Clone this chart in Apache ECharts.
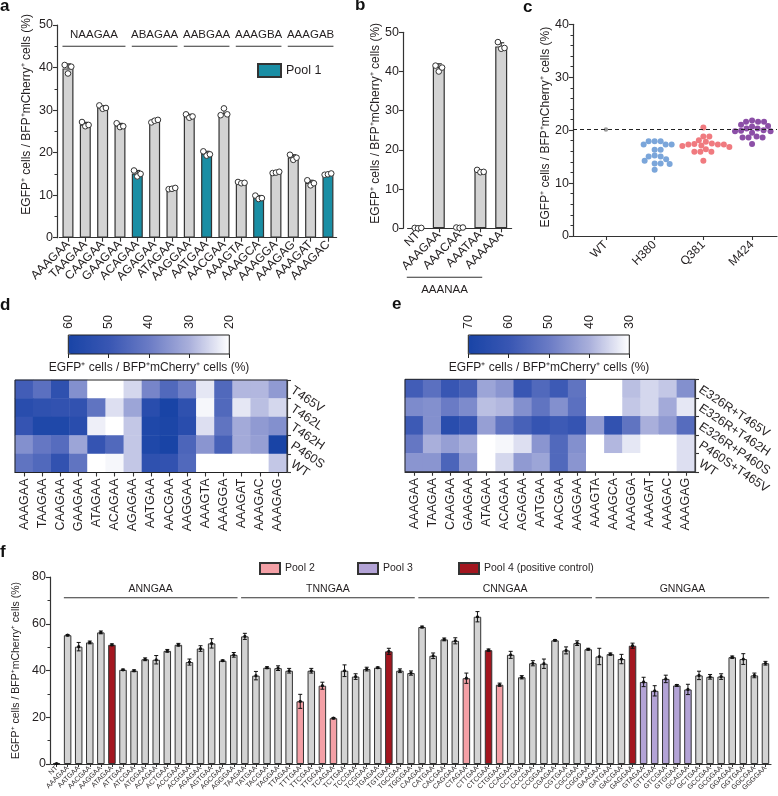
<!DOCTYPE html>
<html><head><meta charset="utf-8">
<script src="https://cdn.jsdelivr.net/npm/echarts@6/dist/echarts.min.js"></script>
<style>html,body{margin:0;padding:0;background:#fff}#c{width:778px;height:796px}</style>
</head><body><div id="c"></div>
<script>
const FONT = '"Liberation Sans", Arial, Helvetica, sans-serif';
const TXT = '#231f20';
const YTITLE = 'EGFP\u207A cells / BFP\u207AmCherry\u207A cells (%)';

// ---------- Panel a ----------
const aCategories = ['AAAGAA','TAAGAA','CAAGAA','GAAGAA','ACAGAA','AGAGAA','ATAGAA','AAGGAA','AATGAA','AACGAA','AAAGTA','AAAGCA','AAAGGA','AAAGAG','AAAGAT','AAAGAC'];
const aValues = [39.8, 26.6, 30.6, 26.4, 15.1, 27.5, 11.6, 28.6, 19.8, 29.3, 13.0, 9.5, 15.3, 18.9, 12.9, 15.0];
const aPool = [0,0,0,0,1,0,0,0,1,0,0,1,0,0,0,1];
const aReplicates = [
  [40.6,38.6,40.2],[27.2,26.2,26.5],[31.1,30.3,30.5],[26.9,26.0,26.2],
  [15.8,14.4,15.0],[27.1,27.5,27.7],[11.4,11.5,11.7],[29.0,28.2,28.5],
  [20.3,19.3,19.6],[28.8,30.4,29.0],[13.1,12.8,12.9],[9.9,9.1,9.3],
  [15.2,15.3,15.5],[19.5,18.3,18.8],[13.5,12.3,12.8],[14.8,14.9,15.1]
];
const aGroupNames = ['NAAGAA','ABAGAA','AABGAA','AAAGBA','AAAGAB'];
const aGroupStart = [0,4,7,10,13];
const aGroupEnd = [3,6,9,12,15];

// ---------- Panel b ----------
const bCategories = ['NT','AAAGAA','AAACAA','AAATAA','AAAAAA'];
const bValues = [0.1, 41.2, 0.2, 14.6, 46.4];
const bReplicates = [[0.1,0.0,0.1],[41.5,40.0,41.0],[0.2,0.1,0.2],[14.9,14.3,14.4],[47.5,45.8,46.0]];
const bUnderlineName = 'AAANAA';
const bUnderlineStart = 1, bUnderlineEnd = 4;

// ---------- Panel c ----------
const cGroups = ['WT','H380','Q381','M424'];
const cWT = [20.1];
const cH380 = [17.9,17.9,17.9,17.3,17.3,17.3,16.3,16.3,15.2,15.0,15.0,14.5,14.2,13.7,13.7,13.6,12.5];
const cQ381 = [20.5,18.8,18.8,18.1,17.8,17.5,17.4,17.3,17.3,17.3,17.1,17.0,16.8,16.4,15.9,15.9,15.9,14.2];
const cM424 = [21.8,21.6,21.6,21.6,21.0,20.8,20.7,20.3,20.3,20.0,19.9,19.8,19.8,19.5,18.8,18.6,18.6,18.6,17.4];
const cColors = ['#9a9a9a','#7ba6da','#f07a7f','#8c4fa7'];

// ---------- Panel d ----------
const dColumns = ['AAAGAA','TAAGAA','CAAGAA','GAAGAA','ATAGAA','ACAGAA','AGAGAA','AATGAA','AACGAA','AAGGAA','AAAGTA','AAAGGA','AAAGAT','AAAGAC','AAAGAG'];
const dRows = ['T465V','T462L','T462H','P460S','WT'];
const dValues = [
  [48, 43, 53, 36, 20, 20, 25, 38, 45, 39, 23, 45, 29, 29, 34],
  [55, 53, 52, 52, 42, 24, 32, 55, 60, 53, 21, 45, 23, 28, 25],
  [51, 58, 58, 55, 22, 20, 27, 58, 59, 55, 24, 42, 31, 34, 36],
  [36, 41, 44, 32, 51, 45, 27, 58, 62, 46, 35, 47, 31, 33, 60],
  [42, 45, 52, 42, 20, 21, 27, 53, 52, 45, 20, 20, 20, 20, 27]
];
const dRange = [20, 60];

// ---------- Panel e ----------
const eColumns = ['AAAGAA','TAAGAA','CAAGAA','GAAGAA','ATAGAA','ACAGAA','AGAGAA','AATGAA','AACGAA','AAGGAA','AAAGTA','AAAGCA','AAAGGA','AAAGAT','AAAGAC','AAAGAG'];
const eRows = ['E326R+T465V','E326R+T462H','E326R+P460S','P460S+T465V','WT'];
const eValues = [
  [58, 53, 60, 57, 42, 45, 60, 55, 59, 52, 30, 30, 38, 35, 37, 46],
  [47, 46, 50, 47, 38, 39, 46, 52, 46, 53, 30, 30, 37, 35, 41, 33],
  [59, 46, 65, 61, 43, 52, 57, 61, 59, 61, 44, 62, 52, 40, 44, 54],
  [51, 40, 43, 40, 30, 31, 34, 45, 55, 46, 30, 39, 33, 30, 30, 34],
  [45, 45, 56, 44, 30, 35, 44, 42, 55, 45, 30, 30, 30, 30, 30, 34]
];
const eRange = [30, 70];

// ---------- Panel f ----------
const fCategories = ['NT',
 'AAAGAA','AATGAA','AACGAA','AAGGAA','ATAGAA','ATTGAA','ATCGAA','ATGGAA','ACAGAA','ACTGAA','ACCGAA','ACGGAA','AGAGAA','AGTGAA','AGCGAA','AGGGAA',
 'TAAGAA','TATGAA','TACGAA','TAGGAA','TTAGAA','TTTGAA','TTCGAA','TTGGAA','TCAGAA','TCTGAA','TCCGAA','TCGGAA','TGAGAA','TGTGAA','TGCGAA','TGGGAA',
 'CAAGAA','CATGAA','CACGAA','CAGGAA','CTAGAA','CTTGAA','CTCGAA','CTGGAA','CCAGAA','CCTGAA','CCCGAA','CCGGAA','CGAGAA','CGTGAA','CGCGAA','CGGGAA',
 'GAAGAA','GATGAA','GACGAA','GAGGAA','GTAGAA','GTTGAA','GTCGAA','GTGGAA','GCAGAA','GCTGAA','GCCGAA','GCGGAA','GGAGAA','GGTGAA','GGCGAA','GGGGAA'];
const fValues = [0.2,
 55.1, 50.2, 52.0, 56.3, 51.0, 40.3, 39.9, 44.8, 44.6, 48.4, 51.0, 43.6, 49.4, 51.6, 44.2, 46.7,
 54.6, 37.8, 41.2, 41.0, 39.9, 26.8, 39.9, 33.5, 19.6, 39.9, 37.4, 40.6, 41.2, 48.2, 39.9, 38.9,
 58.6, 46.3, 53.3, 52.7, 36.7, 63.0, 48.7, 33.9, 46.7, 37.1, 43.1, 42.9, 52.9, 48.6, 51.7, 49.1,
 46.0, 47.0, 44.9, 50.6, 35.1, 31.3, 36.4, 33.6, 31.9, 37.9, 37.3, 37.4, 45.7, 44.9, 37.9, 43.1];
const fSD = [0.1,
 0.3, 1.8, 0.6, 0.6, 0.4, 0.3, 0.4, 0.6, 1.8, 0.6, 0.6, 1.3, 1.2, 2.0, 0.3, 1.0,
 1.3, 1.8, 0.4, 1.0, 1.0, 3.0, 1.0, 1.5, 0.3, 2.5, 1.2, 0.8, 0.3, 1.3, 0.8, 0.9,
 0.4, 1.2, 0.6, 1.3, 2.2, 2.2, 0.5, 0.7, 1.5, 0.7, 1.1, 2.0, 0.3, 1.5, 1.0, 0.4,
 3.5, 0.5, 2.0, 1.1, 2.0, 2.2, 1.6, 0.4, 2.2, 1.8, 1.0, 1.2, 0.5, 2.3, 1.0, 0.8];
const fPool = [0,
 0,0,0,0,4,0,0,0,0,0,0,0,0,0,0,0,
 0,0,0,0,0,2,0,2,2,0,0,0,0,4,0,0,
 0,0,0,0,2,0,4,2,0,0,0,0,0,0,0,0,
 0,0,0,4,3,3,3,3,3,0,0,0,0,0,0,0];
const fGroupNames = ['ANNGAA','TNNGAA','CNNGAA','GNNGAA'];
const fGroupStart = [1,17,33,49];
const fGroupEnd = [16,32,48,64];

// ---------- styles ----------
const GRAY = '#d3d3d3', EDGE = '#333333';
const POOLCOL = {1:'#1a8ea4', 2:'#f4a0a6', 3:'#b3a3d6', 4:'#a3161f'};
const HEAT = ['#ffffff','#a9afdb','#6a7bc5','#3856b3','#1944a6'];

const chart = echarts.init(document.getElementById('c'), null, {renderer:'canvas'});

function sel(vals, pools, p){ return vals.map((v,i)=> pools[i]===p ? v : null); }
function sdOf(r){ const m=r.reduce((s,v)=>s+v,0)/r.length; return Math.sqrt(r.reduce((s,v)=>s+(v-m)*(v-m),0)/(r.length-1)); }

function repRender(params, api){
  const i = api.value(0), m = api.value(1);
  const reps = [api.value(2), api.value(3), api.value(4)];
  const sd = sdOf(reps);
  const c = api.coord([i, m]), t = api.coord([i, m+sd]);
  const ch = [
    {type:'line', shape:{x1:c[0],y1:c[1],x2:c[0],y2:t[1]}, style:{stroke:EDGE,lineWidth:1.2}},
    {type:'line', shape:{x1:c[0]-3,y1:t[1],x2:c[0]+3,y2:t[1]}, style:{stroke:EDGE,lineWidth:1.2}}
  ];
  const offs = [-3.3, 0, 3.3];
  reps.forEach((r,j)=>{ const p = api.coord([i, r]);
    ch.push({type:'circle', shape:{cx:c[0]+offs[j], cy:p[1], r:2.8}, style:{fill:'#fff', stroke:EDGE, lineWidth:1}}); });
  return {type:'group', children:ch};
}

function groupRender(names, half, lineVal, textVal, fs){
  return function(params, api){
    const s = api.value(0), e = api.value(1);
    const x1 = api.coord([s, 0])[0]-half, x2 = api.coord([e, 0])[0]+half;
    const y = api.coord([s, lineVal])[1], ty = api.coord([s, textVal])[1];
    return {type:'group', children:[
      {type:'line', shape:{x1:x1,y1:y,x2:x2,y2:y}, style:{stroke:EDGE,lineWidth:1.1}},
      {type:'text', style:{text:names[params.dataIndex], x:(x1+x2)/2, y:ty, align:'center', verticalAlign:'middle', fill:TXT, font:fs+'px '+FONT}}
    ]};
  };
}

// beeswarm layout (pixel space) computed from the values
const cPxPerY = 211.7/40, cPxPerX = 194.8/4, cDot = 5.8;
function swarm(vals, gi){
  const sorted = vals.slice().sort((a,b)=>b-a);
  const placed = [], out = [];
  sorted.forEach(v=>{
    const y = v*cPxPerY;
    let best = 0;
    for (let k=0; k<400; k++){
      const cand = (k%2===1 ? 1 : -1) * Math.ceil(k/2) * 0.5;
      if (placed.every(p => Math.hypot(p[0]-cand, p[1]-y) >= cDot)) { best = cand; break; }
    }
    placed.push([best, y]);
    out.push([gi + best/cPxPerX, v]);
  });
  return out;
}
const cSets = [cWT, cH380, cQ381, cM424];

function heatData(rows){ const d=[]; rows.forEach((row,r)=>row.forEach((v,c)=>d.push([c,r,v]))); return d; }

const axisLine = {show:true, lineStyle:{color:EDGE, width:1.2}};
const axisTick = {show:true, length:4, lineStyle:{color:EDGE, width:1.1}};
const lbl = (fs, extra)=>Object.assign({color:TXT, fontSize:fs, fontFamily:FONT}, extra||{});

const option = {
  animation:false,
  backgroundColor:'#fff',
  textStyle:{fontFamily:FONT},
  grid:[
    {left:59.3, top:25, width:277.3, height:212.7},
    {left:407.6, top:32.3, width:104, height:196},
    {left:573, top:24.3, width:204, height:211.7},
    {left:581.6, top:24.3, width:194.8, height:211.7},
    {left:15, top:380, width:272, height:92.5, show:true, borderColor:'#222', borderWidth:1, backgroundColor:'rgba(0,0,0,0)', z:10},
    {left:68.3, top:335, width:161, height:19, show:true, borderColor:'#222', borderWidth:1, backgroundColor:'rgba(0,0,0,0)', z:10},
    {left:405, top:379.3, width:290, height:92.5, show:true, borderColor:'#222', borderWidth:1, backgroundColor:'rgba(0,0,0,0)', z:10},
    {left:468.3, top:335, width:161, height:19, show:true, borderColor:'#222', borderWidth:1, backgroundColor:'rgba(0,0,0,0)', z:10},
    {left:51, top:577, width:720, height:187}
  ],
  xAxis:[
    {type:'category', gridIndex:0, data:aCategories, axisLine, axisTick:Object.assign({alignWithLabel:true}, axisTick),
      axisLabel:lbl(12,{rotate:45, interval:0, margin:5})},
    {type:'category', gridIndex:1, data:bCategories, axisLine, axisTick:Object.assign({alignWithLabel:true}, axisTick),
      axisLabel:lbl(12,{rotate:45, interval:0, margin:5})},
    {type:'value', gridIndex:2, min:0, max:1, axisLine, axisTick:{show:false}, axisLabel:{show:false}, splitLine:{show:false}},
    {type:'category', gridIndex:3, data:cGroups, axisLine:{show:false}, axisTick:Object.assign({alignWithLabel:true}, axisTick),
      axisLabel:lbl(12,{rotate:45, interval:0, margin:7})},
    {type:'value', gridIndex:3, min:-0.5, max:3.5, show:false},
    {type:'category', gridIndex:4, data:dColumns, axisLine, axisTick:Object.assign({alignWithLabel:true}, axisTick),
      axisLabel:lbl(12.5,{rotate:90, interval:0, margin:6})},
    {type:'value', gridIndex:5, position:'top', min:dRange[0], max:dRange[1], interval:10, inverse:true,
      axisLine:{show:false}, axisTick:{show:true, inside:true, length:4, lineStyle:{color:'#222'}}, splitLine:{show:false},
      axisLabel:lbl(12.5,{rotate:90, margin:6})},
    {type:'category', gridIndex:6, data:eColumns, axisLine, axisTick:Object.assign({alignWithLabel:true}, axisTick),
      axisLabel:lbl(12.5,{rotate:90, interval:0, margin:6})},
    {type:'value', gridIndex:7, position:'top', min:eRange[0], max:eRange[1], interval:10, inverse:true,
      axisLine:{show:false}, axisTick:{show:true, inside:true, length:4, lineStyle:{color:'#222'}}, splitLine:{show:false},
      axisLabel:lbl(12.5,{rotate:90, margin:6})},
    {type:'category', gridIndex:8, data:fCategories, axisLine, axisTick:{show:true, alignWithLabel:true, length:3, lineStyle:{color:EDGE}},
      axisLabel:lbl(7,{rotate:45, interval:0, margin:3})}
  ],
  yAxis:[
    {type:'value', gridIndex:0, min:0, max:50, interval:10, offset:2.3, axisLine, axisTick,
      minorTick:{show:true, splitNumber:2, length:2.5, lineStyle:{color:EDGE}}, splitLine:{show:false}, minorSplitLine:{show:false},
      axisLabel:lbl(12.5,{margin:4}), name:YTITLE, nameLocation:'middle', nameGap:24,
      nameTextStyle:{color:TXT, fontSize:12, fontFamily:FONT, padding:[0,0,0,34]}},
    {type:'value', gridIndex:1, min:0, max:50, interval:10, offset:4.6, axisLine, axisTick, splitLine:{show:false},
      axisLabel:lbl(12.5,{margin:4}), name:YTITLE, nameLocation:'middle', nameGap:20,
      nameTextStyle:{color:TXT, fontSize:12, fontFamily:FONT, padding:[0,0,0,14]}},
    {type:'value', gridIndex:2, min:0, max:40, interval:10, axisLine, axisTick,
      minorTick:{show:true, splitNumber:5, length:2.5, lineStyle:{color:EDGE}}, splitLine:{show:false}, minorSplitLine:{show:false},
      axisLabel:lbl(12.5,{margin:4}), name:YTITLE, nameLocation:'middle', nameGap:19,
      nameTextStyle:{color:TXT, fontSize:12, fontFamily:FONT, padding:[0,0,0,6]}},
    {type:'value', gridIndex:3, min:0, max:40, show:false},
    {type:'category', gridIndex:4, data:dRows, inverse:true, position:'right', axisLine, axisTick,
      axisLabel:lbl(12.5,{rotate:-34, margin:5, interval:0})},
    {type:'value', gridIndex:5, show:false, min:0, max:1},
    {type:'category', gridIndex:6, data:eRows, inverse:true, position:'right', axisLine, axisTick,
      axisLabel:lbl(12.5,{rotate:-34, margin:5, interval:0})},
    {type:'value', gridIndex:7, show:false, min:0, max:1},
    {type:'value', gridIndex:8, min:0, max:80, interval:20, offset:1, axisLine, axisTick,
      minorTick:{show:true, splitNumber:2, length:2.5, lineStyle:{color:EDGE}}, splitLine:{show:false}, minorSplitLine:{show:false},
      axisLabel:lbl(12.5,{margin:4}), name:YTITLE, nameLocation:'middle', nameGap:23,
      nameTextStyle:{color:TXT, fontSize:10.5, fontFamily:FONT}}
  ],
  visualMap:[
    {type:'continuous', seriesIndex:12, min:dRange[0], max:dRange[1], orient:'horizontal', inverse:true,
      left:68.3, top:335, itemWidth:19, itemHeight:161, calculable:false, padding:0, inRange:{color:HEAT}, textStyle:{color:TXT}},
    {type:'continuous', seriesIndex:13, min:eRange[0], max:eRange[1], orient:'horizontal', inverse:true,
      left:468.3, top:335, itemWidth:19, itemHeight:161, calculable:false, padding:0, inRange:{color:HEAT}, textStyle:{color:TXT}}
  ],
  legend:[
    {data:['Pool 1'], left:257, top:63, itemWidth:23, itemHeight:13, padding:0, icon:'rect', textStyle:lbl(12.5)},
    {data:['Pool 2'], left:259, top:562, itemWidth:20, itemHeight:11, padding:0, icon:'rect', textStyle:lbl(10.5)},
    {data:['Pool 3'], left:357, top:562, itemWidth:20, itemHeight:11, padding:0, icon:'rect', textStyle:lbl(10.5)},
    {data:['Pool 4 (positive control)'], left:458, top:562, itemWidth:20, itemHeight:11, padding:0, icon:'rect', textStyle:lbl(10.5)}
  ],
  series:[
    {name:'a', type:'bar', xAxisIndex:0, yAxisIndex:0, data:sel(aValues,aPool,0), barWidth:11, barGap:'-100%',
      itemStyle:{color:GRAY, borderColor:EDGE, borderWidth:1.2}},
    {name:'Pool 1', type:'bar', xAxisIndex:0, yAxisIndex:0, data:sel(aValues,aPool,1), barWidth:11, barGap:'-100%',
      itemStyle:{color:POOLCOL[1], borderColor:EDGE, borderWidth:1.2}},
    {type:'custom', xAxisIndex:0, yAxisIndex:0, z:5, renderItem:repRender, encode:{x:0,y:1},
      data:aCategories.map((c,i)=>[i, aValues[i]].concat(aReplicates[i]))},
    {type:'custom', xAxisIndex:0, yAxisIndex:0, clip:false, z:5, renderItem:groupRender(aGroupNames,5.5,45,47.6,11.5),
      encode:{x:[0,1]}, data:aGroupNames.map((n,k)=>[aGroupStart[k], aGroupEnd[k]])},
    {name:'b', type:'bar', xAxisIndex:1, yAxisIndex:1, data:bValues, barWidth:12,
      itemStyle:{color:GRAY, borderColor:EDGE, borderWidth:1.2}},
    {type:'custom', xAxisIndex:1, yAxisIndex:1, z:5, clip:false, renderItem:repRender, encode:{x:0,y:1},
      data:bCategories.map((c,i)=>[i, bValues[i]].concat(bReplicates[i]))},
    {type:'custom', xAxisIndex:1, yAxisIndex:1, clip:false, z:5, encode:{x:[0,1]},
      data:[[bUnderlineStart, bUnderlineEnd]],
      renderItem:function(params, api){
        const x1 = api.coord([api.value(0),0])[0]-32, x2 = api.coord([api.value(1),0])[0]-19;
        const y = api.coord([0,0])[1]+49;
        return {type:'group', children:[
          {type:'line', shape:{x1:x1,y1:y,x2:x2,y2:y}, style:{stroke:EDGE,lineWidth:1.1}},
          {type:'text', style:{text:bUnderlineName, x:(x1+x2)/2, y:y+13, align:'center', verticalAlign:'middle', fill:TXT, font:'11.5px '+FONT}}
        ]};
      }},
    {type:'line', xAxisIndex:2, yAxisIndex:2, data:[], symbol:'none',
      markLine:{silent:true, symbol:'none', label:{show:false}, lineStyle:{type:[4,3], color:'#222', width:1},
        data:[{yAxis:cWT[0]}]}},
    ...cSets.map((vals,gi)=>({type:'scatter', name:cGroups[gi], xAxisIndex:4, yAxisIndex:3, symbolSize: gi===0?4.5:6,
      itemStyle:{color:cColors[gi], opacity:1}, data:swarm(vals, gi), z:4})),
    {type:'heatmap', xAxisIndex:5, yAxisIndex:4, data:heatData(dValues), itemStyle:{borderWidth:0}},
    {type:'heatmap', xAxisIndex:7, yAxisIndex:6, data:heatData(eValues), itemStyle:{borderWidth:0}},
    {name:'f', type:'bar', xAxisIndex:9, yAxisIndex:8, data:sel(fValues,fPool,0), barWidth:7.5, barGap:'-100%',
      itemStyle:{color:GRAY, borderColor:EDGE, borderWidth:1}},
    {name:'Pool 2', type:'bar', xAxisIndex:9, yAxisIndex:8, data:sel(fValues,fPool,2), barWidth:7.5, barGap:'-100%',
      itemStyle:{color:POOLCOL[2], borderColor:EDGE, borderWidth:1}},
    {name:'Pool 3', type:'bar', xAxisIndex:9, yAxisIndex:8, data:sel(fValues,fPool,3), barWidth:7.5, barGap:'-100%',
      itemStyle:{color:POOLCOL[3], borderColor:EDGE, borderWidth:1}},
    {name:'Pool 4 (positive control)', type:'bar', xAxisIndex:9, yAxisIndex:8, data:sel(fValues,fPool,4), barWidth:7.5, barGap:'-100%',
      itemStyle:{color:POOLCOL[4], borderColor:EDGE, borderWidth:1}},
    {type:'custom', xAxisIndex:9, yAxisIndex:8, z:5, clip:false, encode:{x:0,y:1},
      data:fCategories.map((c,i)=>[i, fValues[i], fSD[i]]),
      renderItem:function(params, api){
        const i=api.value(0), m=api.value(1), s=api.value(2);
        const t=api.coord([i,m+s]), b=api.coord([i,Math.max(0,m-s)]), c=api.coord([i,m]);
        return {type:'group', children:[
          {type:'line', shape:{x1:c[0],y1:t[1],x2:c[0],y2:b[1]}, style:{stroke:'#111',lineWidth:1}},
          {type:'line', shape:{x1:c[0]-2,y1:t[1],x2:c[0]+2,y2:t[1]}, style:{stroke:'#111',lineWidth:1}},
          {type:'line', shape:{x1:c[0]-2,y1:b[1],x2:c[0]+2,y2:b[1]}, style:{stroke:'#111',lineWidth:1}},
          {type:'circle', shape:{cx:c[0], cy:c[1], r:1.6}, style:{fill:'#111'}}
        ]};
      }},
    {type:'custom', xAxisIndex:9, yAxisIndex:8, clip:false, z:5, renderItem:groupRender(fGroupNames,3.75,71.1,75,10.5),
      encode:{x:[0,1]}, data:fGroupNames.map((n,k)=>[fGroupStart[k], fGroupEnd[k]])}
  ],
  graphic:[
    {type:'text', style:{text:'a', font:'bold 17px '+FONT, fill:'#111'}, x:0, y:-2},
    {type:'text', style:{text:'b', font:'bold 17px '+FONT, fill:'#111'}, x:355, y:-3},
    {type:'text', style:{text:'c', font:'bold 17px '+FONT, fill:'#111'}, x:523, y:-1},
    {type:'text', style:{text:'d', font:'bold 17px '+FONT, fill:'#111'}, x:0, y:297},
    {type:'text', style:{text:'e', font:'bold 17px '+FONT, fill:'#111'}, x:392, y:296},
    {type:'text', style:{text:'f', font:'bold 17px '+FONT, fill:'#111'}, x:0, y:544},
    {type:'text', style:{text:YTITLE, font:'12px '+FONT, fill:TXT, align:'center', verticalAlign:'middle'}, x:149, y:368},
    {type:'text', style:{text:YTITLE, font:'12px '+FONT, fill:TXT, align:'center', verticalAlign:'middle'}, x:549, y:368}
  ]
};
chart.setOption(option);
</script></body></html>
